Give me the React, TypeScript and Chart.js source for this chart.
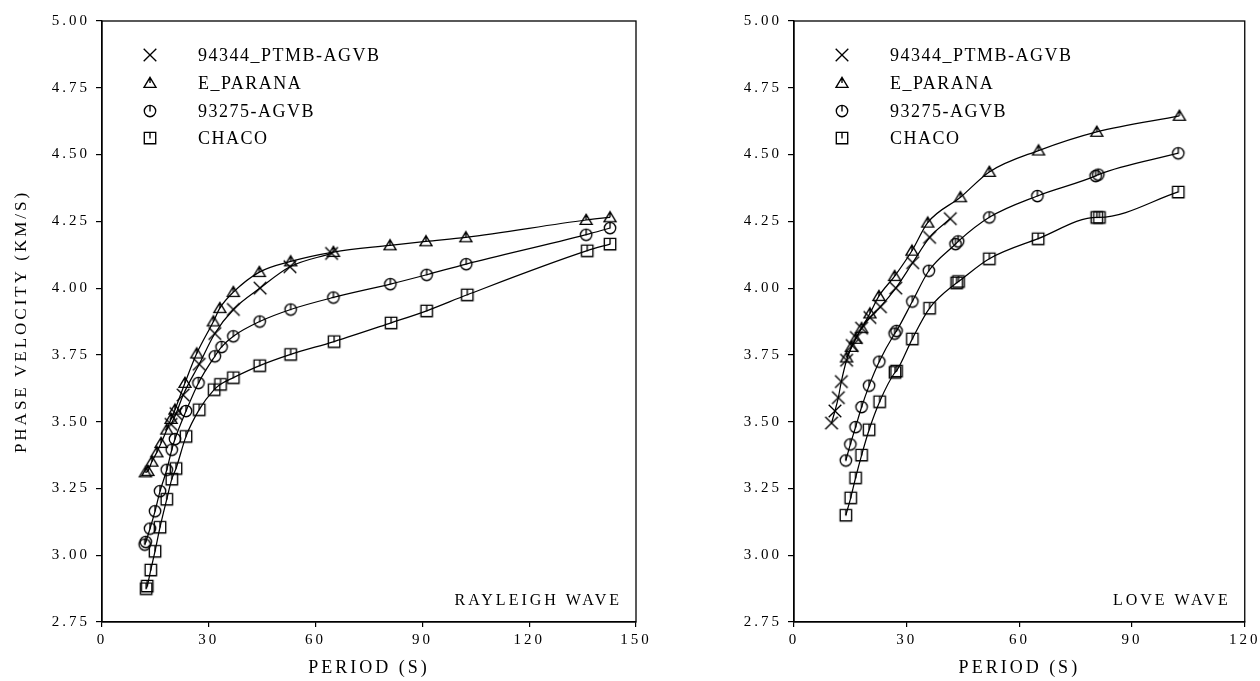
import React, { useEffect, useRef } from 'react';
import { Chart, registerables } from 'chart.js';
Chart.register(...registerables);

const SERIES_NAMES = ['94344_PTMB-AGVB', 'E_PARANA', '93275-AGVB', 'CHACO'];

// Rayleigh wave
const rayXPer = [19.4, 20.8, 22.8, 27.3, 31.7, 36.9, 44.4, 52.8, 64.5];
const rayXVel = [3.49, 3.53, 3.60, 3.715, 3.83, 3.92, 4.0, 4.08, 4.13];
const rayTriPer = [12.2, 12.9, 14.0, 15.4, 16.6, 18.2, 19.4, 20.5, 23.3, 26.6, 31.3, 33.1, 36.9, 44.2, 53.0, 65.0, 80.9, 91.0, 102.2, 136.0, 142.7];
const rayTriVel = [3.31, 3.315, 3.35, 3.385, 3.42, 3.47, 3.51, 3.545, 3.645, 3.755, 3.875, 3.925, 3.985, 4.06, 4.1, 4.135, 4.16, 4.175, 4.19, 4.255, 4.265];
const rayCirPer = [12.0, 12.3, 13.5, 14.9, 16.3, 18.2, 19.6, 20.5, 23.6, 27.1, 31.7, 33.6, 36.9, 44.3, 53.0, 65.0, 81.0, 91.2, 102.3, 136.0, 142.7];
const rayCirVel = [3.04, 3.05, 3.1, 3.165, 3.24, 3.32, 3.395, 3.435, 3.54, 3.645, 3.745, 3.78, 3.82, 3.875, 3.92, 3.965, 4.015, 4.05, 4.09, 4.2, 4.225];
const raySqPer = [12.4, 12.7, 13.7, 14.9, 16.3, 18.2, 19.6, 20.8, 23.6, 27.3, 31.5, 33.3, 36.9, 44.3, 53.0, 65.2, 81.2, 91.2, 102.6, 136.3, 142.7];
const raySqVel = [2.875, 2.885, 2.945, 3.015, 3.105, 3.21, 3.285, 3.325, 3.445, 3.545, 3.62, 3.64, 3.665, 3.71, 3.752, 3.8, 3.87, 3.915, 3.975, 4.14, 4.165];

// Love wave
const loveXPer = [10.0, 10.9, 11.8, 12.6, 14.0, 15.5, 16.6, 18.0, 20.2, 23.0, 27.1, 31.6, 36.1, 41.6];
const loveXVel = [3.495, 3.54, 3.59, 3.65, 3.73, 3.785, 3.815, 3.85, 3.89, 3.93, 4.0, 4.095, 4.19, 4.26];
const loveTriPer = [14.0, 15.3, 16.4, 18.0, 20.2, 22.6, 26.8, 31.4, 35.6, 44.3, 52.0, 65.1, 80.6, 102.6];
const loveTriVel = [3.74, 3.78, 3.81, 3.85, 3.905, 3.97, 4.045, 4.14, 4.245, 4.34, 4.435, 4.515, 4.585, 4.645];
const loveCirPer = [13.8, 15.0, 16.4, 18.0, 20.0, 22.7, 26.8, 27.3, 31.5, 35.9, 43.0, 43.7, 52.0, 64.8, 80.3, 81.0, 102.3];
const loveCirVel = [3.355, 3.415, 3.48, 3.555, 3.635, 3.725, 3.83, 3.84, 3.95, 4.065, 4.165, 4.175, 4.265, 4.345, 4.42, 4.425, 4.505];
const loveSqPer = [13.8, 15.1, 16.4, 18.0, 20.0, 22.8, 26.9, 27.3, 31.5, 36.1, 43.3, 43.8, 52.0, 65.0, 80.6, 81.3, 102.3];
const loveSqVel = [3.15, 3.215, 3.29, 3.375, 3.47, 3.575, 3.685, 3.69, 3.81, 3.925, 4.02, 4.025, 4.11, 4.185, 4.265, 4.265, 4.36];

const Y_MIN = 2.75;
const Y_MAX = 5.0;
const Y_STEP = 0.25;
const X_STEP = 30;

const FONT = '"Liberation Serif", "DejaVu Serif", serif';

function zip(xs: number[], ys: number[]) {
  return xs.map((x, i) => ({ x, y: ys[i] }));
}

// small marker images: hollow shapes with a short vertical stroke, as in the scanned figure
function makeMarker(kind: string): HTMLCanvasElement {
  const c = document.createElement('canvas');
  const S = 16;
  c.width = S;
  c.height = S;
  const ctx = c.getContext('2d') as CanvasRenderingContext2D;
  const m = S / 2;
  ctx.strokeStyle = '#000';
  ctx.lineWidth = 1.35;
  ctx.lineJoin = 'miter';
  ctx.beginPath();
  if (kind === 'cross') {
    const d = 6.3;
    ctx.moveTo(m - d, m - d); ctx.lineTo(m + d, m + d);
    ctx.moveTo(m + d, m - d); ctx.lineTo(m - d, m + d);
  } else if (kind === 'triangle') {
    ctx.moveTo(m, m - 5.6); ctx.lineTo(m + 6, m + 4.4); ctx.lineTo(m - 6, m + 4.4); ctx.closePath();
    ctx.moveTo(m, m - 5.6); ctx.lineTo(m, m);
  } else if (kind === 'circle') {
    ctx.arc(m, m, 5.7, 0, Math.PI * 2);
    ctx.moveTo(m, m - 5.7); ctx.lineTo(m, m + 0.5);
  } else {
    ctx.rect(m - 5.7, m - 5.7, 11.4, 11.4);
    ctx.moveTo(m, m - 5.7); ctx.lineTo(m, m + 0.5);
  }
  ctx.stroke();
  return c;
}

function makePanelPlugin(label: string, markers: HTMLCanvasElement[]) {
  return {
    id: 'panel',
    beforeDraw(chart: any) {
      const ctx = chart.ctx as any;
      ctx.letterSpacing = '3px';
    },
    afterDraw(chart: any) {
      const ctx = chart.ctx as any;
      const a = chart.chartArea;
      ctx.save();
      ctx.strokeStyle = '#000';
      ctx.lineWidth = 1.3;
      ctx.strokeRect(a.left, a.top, a.right - a.left, a.bottom - a.top);
      // legend
      const rows = [34, 62, 90, 117];
      ctx.fillStyle = '#000';
      ctx.textBaseline = 'middle';
      ctx.textAlign = 'left';
      ctx.font = `18px ${FONT}`;
      ctx.letterSpacing = '1.5px';
      SERIES_NAMES.forEach((name, i) => {
        const mk = markers[i];
        ctx.drawImage(mk, a.left + 48 - mk.width / 2, a.top + rows[i] - mk.height / 2);
        ctx.fillText(name, a.left + 96, a.top + rows[i] + 1);
      });
      // wave label
      ctx.font = `16px ${FONT}`;
      ctx.letterSpacing = '3px';
      ctx.textAlign = 'right';
      ctx.fillText(label, a.right - 14, a.bottom - 21);
      ctx.restore();
    },
  };
}

function buildConfig(
  series: { x: number; y: number }[][],
  xMax: number,
  yWidth: number,
  padRight: number,
  showYTitle: boolean,
  label: string,
  markers: HTMLCanvasElement[]
): any {
  return {
    type: 'scatter',
    data: {
      datasets: series.map((pts, i) => ({
        label: SERIES_NAMES[i],
        data: pts,
        showLine: true,
        cubicInterpolationMode: 'monotone',
        borderColor: '#000',
        borderWidth: 1.25,
        pointStyle: markers[i],
        pointRadius: 6,
        pointHoverRadius: 6,
      })),
    },
    options: {
      animation: false,
      responsive: false,
      maintainAspectRatio: false,
      events: [],
      layout: { padding: { left: 0, right: padRight, top: 21, bottom: 0 } },
      plugins: { legend: { display: false }, tooltip: { enabled: false } },
      scales: {
        x: {
          type: 'linear',
          min: 0,
          max: xMax,
          afterFit: (s: any) => { s.height = 59; },
          ticks: {
            stepSize: X_STEP,
            color: '#000',
            padding: 4,
            font: { family: FONT, size: 15 },
            maxRotation: 0,
          },
          grid: { display: true, drawOnChartArea: false, drawTicks: true, tickLength: 5, color: '#000', lineWidth: 1.2 },
          border: { display: true, color: '#000', width: 1.3 },
          title: {
            display: true,
            text: 'PERIOD (S)',
            color: '#000',
            font: { family: FONT, size: 18 },
            padding: { top: 0, bottom: 2 },
          },
        },
        y: {
          type: 'linear',
          min: Y_MIN,
          max: Y_MAX,
          afterFit: (s: any) => { s.width = yWidth; },
          ticks: {
            stepSize: Y_STEP,
            color: '#000',
            padding: 6,
            font: { family: FONT, size: 15 },
            callback: (v: number) => Number(v).toFixed(2),
          },
          grid: { display: true, drawOnChartArea: false, drawTicks: true, tickLength: 6, color: '#000', lineWidth: 1.2 },
          border: { display: true, color: '#000', width: 1.3 },
          title: {
            display: showYTitle,
            text: 'PHASE VELOCITY (KM/S)',
            color: '#000',
            font: { family: FONT, size: 17 },
            padding: { top: 11, bottom: 0 },
          },
        },
      },
    },
    plugins: [makePanelPlugin(label, markers)],
  };
}

export default function App() {
  const leftRef = useRef<HTMLCanvasElement | null>(null);
  const rightRef = useRef<HTMLCanvasElement | null>(null);

  useEffect(() => {
    document.body.style.margin = '0';
    const markers = [makeMarker('cross'), makeMarker('triangle'), makeMarker('circle'), makeMarker('rect')];
    const left = new Chart(
      leftRef.current as HTMLCanvasElement,
      buildConfig(
        [zip(rayXPer, rayXVel), zip(rayTriPer, rayTriVel), zip(rayCirPer, rayCirVel), zip(raySqPer, raySqVel)],
        150,
        102,
        24,
        true,
        'RAYLEIGH WAVE',
        markers
      )
    );
    const right = new Chart(
      rightRef.current as HTMLCanvasElement,
      buildConfig(
        [zip(loveXPer, loveXVel), zip(loveTriPer, loveTriVel), zip(loveCirPer, loveCirVel), zip(loveSqPer, loveSqVel)],
        120,
        94,
        14,
        false,
        'LOVE WAVE',
        markers
      )
    );
    return () => {
      left.destroy();
      right.destroy();
    };
  }, []);

  return (
    <div style={{ position: 'fixed', left: 0, top: 0, width: 1260, height: 681, background: '#fff' }}>
      <canvas ref={leftRef} width={660} height={681} style={{ position: 'absolute', left: 0, top: 0, width: 660, height: 681 }} />
      <canvas ref={rightRef} width={560} height={681} style={{ position: 'absolute', left: 700, top: 0, width: 560, height: 681 }} />
    </div>
  );
}
